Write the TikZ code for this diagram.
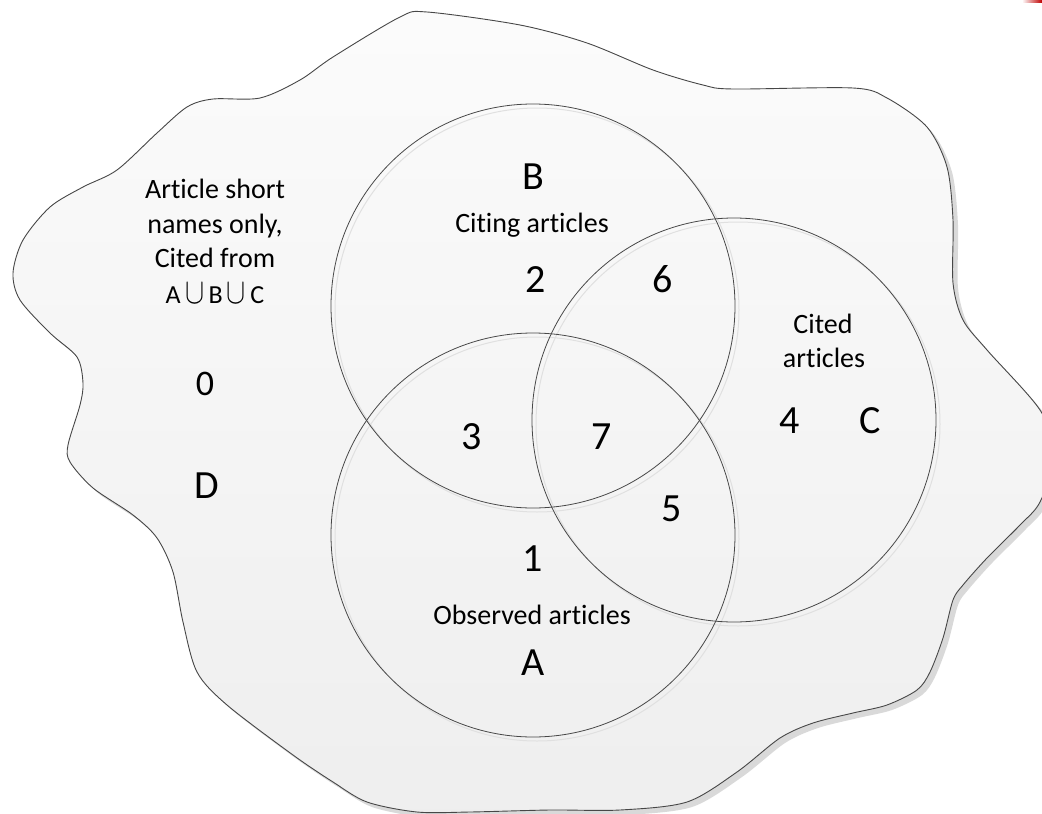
\documentclass[tikz,border=0pt]{standalone}
\usepackage{fontspec}
\usepackage{graphicx}
\setmainfont{Carlito}[Ligatures=NoCommon]
\tikzset{
  blobstyle/.style={draw=black!72, line width=0.9pt, top color=white!98.5!black, bottom color=white!93.5!black},
  blobshadow/.style={fill=black!15},
  venn/.style={draw=black!72, line width=0.8pt},
  vennshadow/.style={draw=black!12, line width=1pt},
  small/.style={inner sep=0pt, anchor=base, font=\fontsize{28}{34}\selectfont},
  big/.style={inner sep=0pt, anchor=base, font=\fontsize{40}{48}\selectfont},
}
\newcommand{\tallcup}{\smash{\scalebox{1.15}[1.45]{$\cup$}}}
\def\blobpath{plot[smooth cycle, tension=0.5] coordinates {
 (427,12) (520,25) (587,43) (653,70) (703,85) (733,89) (853,88) (887,98)
 (927,127) (947,167) (953,220) (953,283) (963,320) (987,350) (1040,410)
 (1055,455) (1040,502) (1020,525) (987,558) (963,585) (953,600) (943,638)
 (930,672) (917,690) (887,705) (853,713) (813,723) (780,738) (737,772)
 (687,802) (620,810) (550,810) (470,812) (417,812) (367,802) (333,782)
 (293,755) (227,705) (197,672) (183,622) (173,572) (157,538) (133,515)
 (93,488) (70,462) (68,445) (80,405) (83,383) (77,357) (50,333) (20,300)
 (13,273) (23,240) (50,207) (83,187) (117,170) (157,133) (187,107)
 (213,99) (260,98) (300,80) (333,57) (400,17)}}
\begin{document}
\begin{tikzpicture}[x=1pt,y=-1pt]
\useasboundingbox (0,0) rectangle (1042,814);
% universe blob with shadow
\path[blobshadow, shift={(5,5)}] \blobpath;
\path[blobstyle] \blobpath;
% circle shadows
\draw[vennshadow] (537,539) circle[radius=202];
\draw[vennshadow] (537,310) circle[radius=202];
\draw[vennshadow] (738,424) circle[radius=202];
% circles A, B, C
\draw[venn] (533,535) circle[radius=202];
\draw[venn] (533,306) circle[radius=202];
\draw[venn] (734,420) circle[radius=202];
% red corner mark
\shade[left color=white, right color=red!75!black] (1022,0) rectangle (1042,2);
% left text (D)
\node[small] (l1) at (215,198) {Article short};
\node[small] (l2) at (215,233) {names only,};
\node[small] (l3) at (215,267) {Cited from};
\node[small] (l4) at (215,303) {\fontsize{26}{30}\selectfont A\,\tallcup\,B\,\tallcup\,C};
\node[big, font=\fontsize{36}{44}\selectfont] (n0) at (205,395) {0};
\node[big] (nD) at (207,498) {D};
% B
\node[big] (nB) at (533,189) {B};
\node[small] (citing) at (532,232) {Citing articles};
\node[big] (n2) at (536,292) {2};
\node[big] (n6) at (663,292) {6};
% C
\node[small] (cited1) at (823,333) {Cited};
\node[small] (cited2) at (824,367) {articles};
\node[big] (n4) at (790,433) {4};
\node[big] (nC) at (870,433) {C};
% intersections
\node[big] (n3) at (472,449) {3};
\node[big] (n7) at (602,449) {7};
\node[big] (n5) at (672,521) {5};
% A
\node[big] (n1) at (533,571) {1};
\node[small] (observed) at (532,624) {Observed articles};
\node[big] (nA) at (533,675) {A};
\end{tikzpicture}
\end{document}
